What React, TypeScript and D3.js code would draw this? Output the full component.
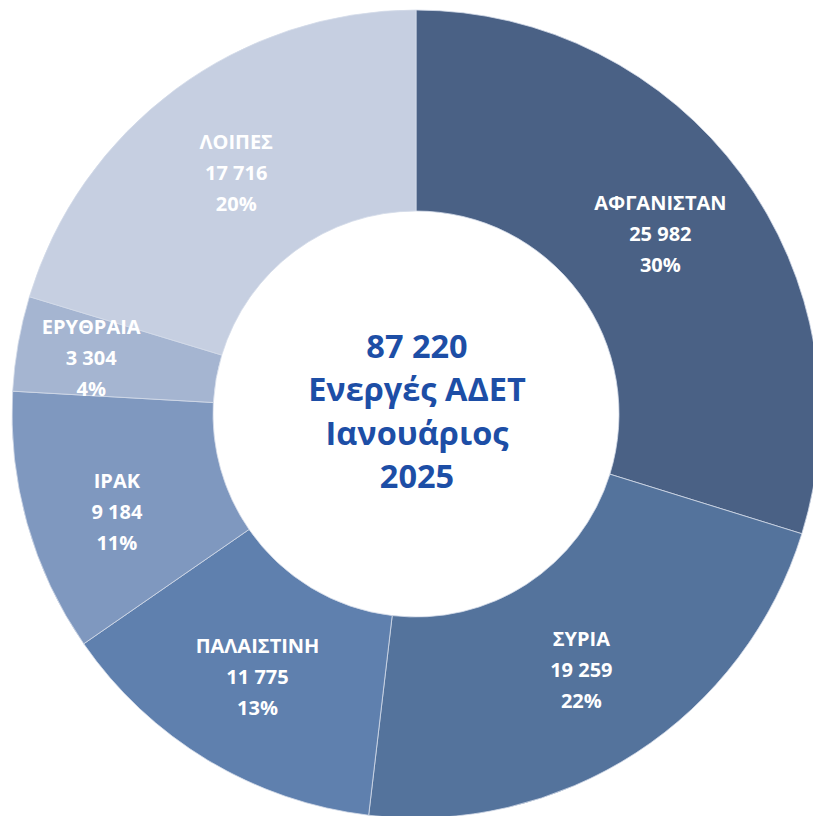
import React from "react";
import * as d3 from "d3";

const categories = ["ΑΦΓΑΝΙΣΤΑΝ", "ΣΥΡΙΑ", "ΠΑΛΑΙΣΤΙΝΗ", "ΙΡΑΚ", "ΕΡΥΘΡΑΙΑ", "ΛΟΙΠΕΣ"];
const values = [25982, 19259, 11775, 9184, 3304, 17716];
const percentLabels = ["30%", "22%", "13%", "11%", "4%", "20%"];
const valueLabels = ["25 982", "19 259", "11 775", "9 184", "3 304", "17 716"];
const centerLines = ["87 220", "Ενεργές ΑΔΕΤ", "Ιανουάριος", "2025"];

const colors = ["#4a6185", "#54739c", "#5f80ae", "#7f98bf", "#a5b5d1", "#c6cfe1"];
// small label nudges (Excel-like placement adjustments)
const labelNudges: [number, number][] = [[0, 0], [0, 2], [-2, 3], [-7, 16], [-26, -3], [1, 3]];

const W = 813;
const H = 816;
const CX = 416;
const CY = 414;
const R_OUT = 404;
const R_IN = 203;

export default function App() {
  const data = categories.map((c, i) => ({ name: c, value: values[i], idx: i }));
  const pie = d3
    .pie<any>()
    .value((d) => d.value)
    .sort(null)
    .startAngle(0)
    .endAngle(2 * Math.PI);
  const arcs = pie(data);
  const arcGen = d3.arc<any>().innerRadius(R_IN).outerRadius(R_OUT);
  const labelArc = d3.arc<any>().innerRadius((R_IN + R_OUT) / 2).outerRadius((R_IN + R_OUT) / 2);
  const font = "'Open Sans', 'Noto Sans', sans-serif";

  return (
    <svg
      width={W}
      height={H}
      style={{ position: "absolute", left: 0, top: 0, background: "#fff" }}
    >
      <g transform={`translate(${CX},${CY})`}>
        {arcs.map((a, i) => (
          <path
            key={i}
            d={arcGen(a) as string}
            fill={colors[i]}
            stroke="#d3dbe8"
            strokeWidth={0.8}
          />
        ))}
        {arcs.map((a, i) => {
          const [x, y] = labelArc.centroid(a);
          const [nx, ny] = labelNudges[i];
          const lx = x + nx;
          const ly = y + ny;
          const lines = [categories[i], valueLabels[i], percentLabels[i]];
          return (
            <text
              key={"l" + i}
              x={lx}
              y={ly}
              textAnchor="middle"
              fill="#ffffff"
              fontFamily={font}
              fontWeight={700}
              fontSize={20}
            >
              {lines.map((t, j) => (
                <tspan key={j} x={lx} y={ly + (j - 1) * 31 + 7}>
                  {t}
                </tspan>
              ))}
            </text>
          );
        })}
        <text
          textAnchor="middle"
          fill="#1d4ea6"
          fontFamily={font}
          fontWeight={700}
          fontSize={32.5}
        >
          {centerLines.map((t, j) => (
            <tspan key={j} x={1} y={358 - CY + j * 43.4}>
              {t}
            </tspan>
          ))}
        </text>
      </g>
    </svg>
  );
}
